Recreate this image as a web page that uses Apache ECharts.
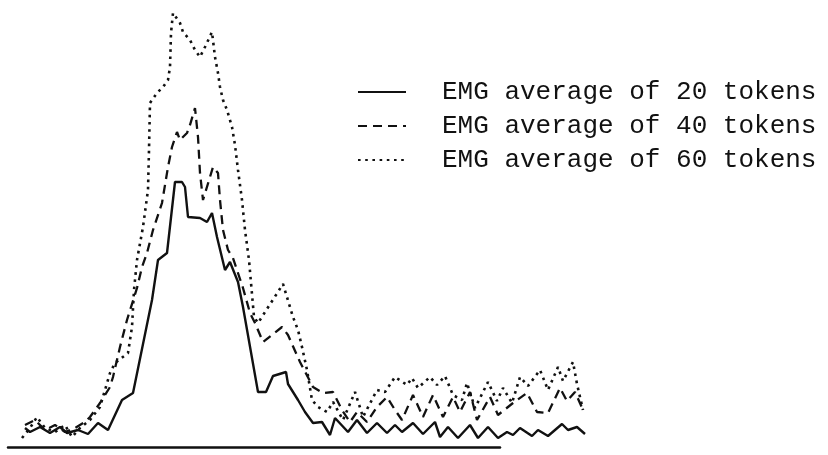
<!DOCTYPE html>
<html>
<head>
<meta charset="utf-8">
<script src="https://cdn.jsdelivr.net/npm/echarts@6/dist/echarts.min.js"></script>
<style>html,body{margin:0;padding:0;background:#fff}#c{width:828px;height:455px}</style>
</head>
<body>
<div id="c"></div>
<script>
// Series names (legend)
const seriesNames = ['EMG average of 20 tokens', 'EMG average of 40 tokens', 'EMG average of 60 tokens'];

// EMG average of 20 tokens (time, amplitude) in arbitrary units
const t20 = [13,18,28,38,48,55,66,76,86,96,110,121,140,146,155,163,170,173,176,188,195,200,205,213,218,226,231,246,254,261,274,276,286,293,301,310,318,323,336,345,355,365,375,383,390,401,411,423,428,436,446,458,466,476,486,495,501,508,520,526,536,550,556,565,573];
const a20 = [19,15,20,14,20,14,17,13,24,17,47,54,147,187,194,265,265,260,230,229,225,234,210,177,185,165,140,55,55,71,75,63,47,35,24,25,12,29,15,27,14,24,14,22,15,24,13,25,10,20,9,22,9,20,9,15,12,19,11,17,11,23,17,20,13];

// EMG average of 40 tokens
const t40 = [13,23,33,43,53,63,73,78,88,98,101,108,115,125,130,135,141,150,156,160,165,168,175,178,183,186,188,191,201,206,208,211,216,221,231,238,243,251,270,276,288,301,311,321,330,338,345,355,365,375,383,390,401,411,421,431,441,448,458,465,478,486,501,515,525,536,548,555,563,571];
const a40 = [22,27,17,22,15,19,25,30,44,60,70,100,127,159,180,194,217,244,280,300,315,307,314,322,339,310,274,247,280,274,247,217,197,189,159,134,124,105,120,112,85,60,54,55,37,25,35,25,40,50,37,27,52,30,52,30,50,35,55,27,50,32,44,54,35,34,59,46,55,37];

// EMG average of 60 tokens
const t60 = [10,18,25,33,43,53,60,68,78,88,98,103,116,120,122,125,131,136,137,138,145,151,156,158,159,161,168,171,178,183,188,193,200,203,206,208,211,215,220,223,226,230,233,237,242,246,271,281,286,290,295,300,306,315,321,331,343,351,365,373,383,395,400,406,418,425,433,441,450,455,463,476,485,491,500,508,516,528,536,546,551,561,565,571];
const a60 = [9,19,30,19,15,22,10,19,27,40,74,84,94,120,157,187,220,257,297,344,354,360,367,380,414,434,424,415,407,397,390,400,415,390,374,360,347,337,320,302,277,247,217,187,130,124,163,130,117,100,77,47,40,35,45,27,55,30,57,55,70,62,69,59,70,62,71,52,47,64,39,65,46,59,44,70,61,77,57,80,66,85,63,37];

const pairs = (t, a) => t.map((v, i) => [v, a[i]]);

const ink = '#111';
const chart = echarts.init(document.getElementById('c'), null, {renderer: 'canvas'});
chart.setOption({
  animation: false,
  backgroundColor: '#fff',
  grid: [
    {left: 12, width: 573, top: 0, bottom: 8},
    {left: 8, width: 492, top: 430, bottom: 8}
  ],
  xAxis: [
    {type: 'value', gridIndex: 0, min: 0, max: 573, show: false},
    {type: 'value', gridIndex: 1, min: 0, max: 1, axisLine: {show: true, lineStyle: {color: ink, width: 2.5}},
     axisTick: {show: false}, axisLabel: {show: false}, splitLine: {show: false}}
  ],
  yAxis: [
    {type: 'value', gridIndex: 0, min: 0, max: 447, show: false},
    {type: 'value', gridIndex: 1, min: 0, max: 1, show: false}
  ],
  legend: {
    orient: 'vertical',
    left: 352,
    top: 74,
    itemWidth: 48,
    itemHeight: 14,
    itemGap: 8,
    data: seriesNames,
    itemStyle: {opacity: 0},
    textStyle: {fontFamily: 'Liberation Mono', fontSize: 26, lineHeight: 26, color: ink, padding: [0, 0, 0, 31]}
  },
  series: [
    {name: seriesNames[0], type: 'line', data: pairs(t20, a20), showSymbol: false, symbol: 'none',
     lineStyle: {color: ink, width: 2.4, type: 'solid'}, itemStyle: {color: ink}},
    {name: seriesNames[1], type: 'line', data: pairs(t40, a40), showSymbol: false, symbol: 'none',
     lineStyle: {color: ink, width: 2.3, type: [9, 6]}, itemStyle: {color: ink}},
    {name: seriesNames[2], type: 'line', data: pairs(t60, a60), showSymbol: false, symbol: 'none',
     lineStyle: {color: ink, width: 2.6, type: [2.6, 4.6]}, itemStyle: {color: ink}}
  ]
});
</script>
</body>
</html>
